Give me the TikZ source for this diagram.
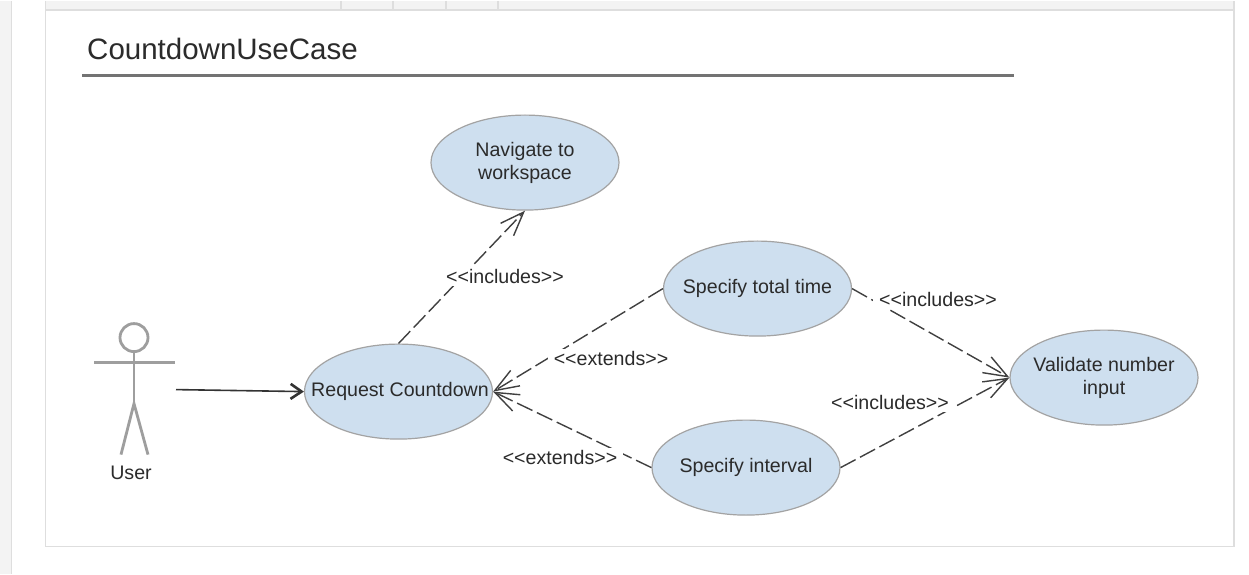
\documentclass[tikz,border=0pt]{standalone}
\usepackage{fontspec}
\setmainfont{Liberation Sans}
\usepackage{tikz}
\usetikzlibrary{positioning,shapes,arrows.meta}
\definecolor{casefill}{HTML}{CEDFEF}
\definecolor{caseline}{HTML}{A3A3A3}
\definecolor{textgray}{HTML}{2B2B2B}
\definecolor{panelgray}{HTML}{F3F3F3}
\definecolor{panelline}{HTML}{DEDEDE}
\tikzstyle{usecase}=[ellipse, draw=caseline, fill=casefill, line width=1.2pt, inner ysep=0pt, inner xsep=-25pt,
minimum width=188pt, minimum height=95pt, align=center, text=textgray, font=\fontsize{19.6}{23}\selectfont]
\tikzstyle{rel}=[text=textgray, fill=white, inner ysep=2pt, inner xsep=6pt, font=\fontsize{19.6}{23}\selectfont]
\tikzstyle{dep}=[draw=black!75, line width=1.4pt, dash pattern=on 17pt off 5pt, -{Straight Barb[length=24pt,width=18pt,line width=1.4pt]}]
\tikzstyle{actorline}=[draw=black!38, line width=2.8pt]
\begin{document}
\begin{tikzpicture}[x=1pt,y=-1pt]
            % page and panel
            \fill[white] (0,0) rectangle (1249,573);
            \fill[panelgray] (0,0) rectangle (11,573);
            \fill[panelgray] (45,0) rectangle (1234,9);
            \draw[panelline, line width=1.2pt] (11.5,0) -- (11.5,573);
            \draw[panelline, line width=1.2pt] (45.5,0) -- (45.5,546) -- (1234,546) -- (1234,0);
            \draw[panelline, line width=1.2pt] (45.5,9.5) -- (1234,9.5);
            \foreach \cellx in {341,393,446,498}
                \draw[panelline, line width=1.2pt] (\cellx,0) -- (\cellx,9.5);
            % title
            \node (title)[anchor=base west, inner sep=0pt, text=textgray, font=\fontsize{29.5}{34}\selectfont] at (87,59) {CountdownUseCase};
            \draw[draw=black!55, line width=3pt] (82,75) -- (1014,75);
            % use cases
            \node (navigate)[usecase] at (525,162) {Navigate to\\workspace};
            \node (request)[usecase] at (398.5,391) {\hspace*{3pt}Request Countdown};
            \node (total)[usecase] at (757.5,288) {Specify total time};
            \node (interval)[usecase] at (746,467) {Specify interval};
            \node (validate)[usecase] at (1104,377) {Validate number\\input};
            % actor
            \node (head)[circle, actorline, minimum size=28pt, inner sep=0pt] at (134,337) {};
            \coordinate (hip) at (134,403);
            \coordinate (handl) at (94,362);
            \coordinate (handr) at (175,362);
            \coordinate (footl) at (121,454);
            \coordinate (footr) at (148,454);
            \coordinate (actorout) at (176,389);
            \draw[actorline] (head.south) -- (hip);
            \draw[actorline] (handl) -- (handr);
            \draw[actorline] (footl) -- (hip) -- (footr);
            \node (user)[text=textgray, font=\fontsize{19.6}{23}\selectfont] at (131,472) {User};
            % connectors
            \draw[black!80, line width=1.6pt, -{Straight Barb[length=11pt,width=15pt,line width=2.6pt]}] (actorout) -- (request.west);
            \draw[dep] (request.north) -- (navigate.south);
            \draw[dep] (total.west) -- (request.east);
            \draw[dep] (interval.west) -- (request.east);
            \draw[dep] (total.east) -- (validate.west);
            \draw[dep] (interval.east) -- (validate.west);
            % labels
            \node (rel1)[rel] at (505,276) {<{}<includes>{}>};
            \node (rel2)[rel] at (611,358) {<{}<extends>{}>};
            \node (rel3)[rel] at (560,457) {<{}<extends>{}>};
            \node (rel4)[rel] at (938,299) {<{}<includes>{}>};
            \node (rel5)[rel] at (890,402) {<{}<includes>{}>};
        \end{tikzpicture}
\end{document}
